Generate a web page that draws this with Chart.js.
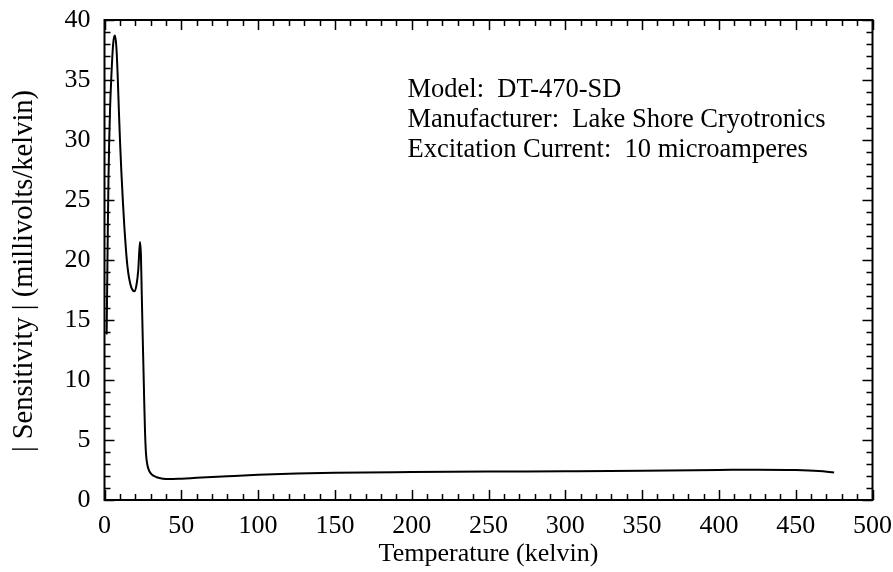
<!DOCTYPE html>
<html>
<head>
<meta charset="utf-8">
<script src="https://cdn.jsdelivr.net/npm/chart.js@4/dist/chart.umd.min.js"></script>
<style>
html,body{margin:0;padding:0;background:#fff;}
canvas{display:block;}
</style>
</head>
<body>
<canvas id="c" width="893" height="572"></canvas>
<script>
// Temperature (kelvin)
const temperature = [1.4, 1.8, 2.2, 2.6, 3.0, 3.6, 4.5, 5.3, 6.0, 6.9, 7.8, 8.6, 9.4, 10.2, 11.0, 12.0, 13.0, 14.0, 15.0, 16.0, 17.5, 19.4, 20.8, 22.0, 23.1, 23.7, 24.2, 24.8, 25.4, 25.9, 26.4, 27.0, 27.8, 29.0, 31.0, 34.0, 38.0, 42.0, 50, 60, 80, 100, 125, 150, 200, 250, 300, 350, 400, 425, 450, 465, 475];
// |Sensitivity| (millivolts/kelvin)
const sensitivity = [13.8, 18.5, 23.0, 26.8, 29.6, 32.5, 35.4, 37.4, 38.4, 38.7, 37.6, 35.3, 32.3, 29.6, 27.3, 24.8, 22.6, 20.8, 19.4, 18.5, 17.7, 17.4, 17.9, 19.2, 21.5, 20.5, 17.5, 14.0, 10.8, 8.0, 5.6, 3.9, 3.0, 2.45, 2.1, 1.9, 1.78, 1.74, 1.78, 1.85, 1.98, 2.1, 2.2, 2.27, 2.33, 2.37, 2.4, 2.44, 2.5, 2.53, 2.5, 2.42, 2.3];
const xTicks = [0, 50, 100, 150, 200, 250, 300, 350, 400, 450, 500];
const yTicks = [0, 5, 10, 15, 20, 25, 30, 35, 40];
const infoLines = ["Model:  DT-470-SD", "Manufacturer:  Lake Shore Cryotronics", "Excitation Current:  10 microamperes"];
const xTitle = "Temperature (kelvin)";
const yTitle = "| Sensitivity | (millivolts/kelvin)";

const FONT = "'Liberation Serif', 'Times New Roman', serif";

const points = temperature.map((t, i) => ({x: t, y: sensitivity[i]}));

const frameAndTicks = {
  id: 'frameAndTicks',
  afterDraw(chart) {
    const ctx = chart.ctx;
    const a = chart.chartArea;
    const xs = chart.scales.x, ys = chart.scales.y;
    ctx.save();
    ctx.strokeStyle = '#000';
    ctx.lineWidth = 2;
    ctx.strokeRect(a.left, a.top, a.right - a.left, a.bottom - a.top);
    ctx.lineWidth = 1.5;
    ctx.beginPath();
    for (let v = xs.min; v <= xs.max + 1e-9; v += 10) {
      const px = Math.round(xs.getPixelForValue(v)) + 0.5;
      const len = (Math.round(v) % 50 === 0) ? 10 : 6;
      ctx.moveTo(px, a.bottom); ctx.lineTo(px, a.bottom - len);
      ctx.moveTo(px, a.top); ctx.lineTo(px, a.top + len);
    }
    for (let v = ys.min; v <= ys.max + 1e-9; v += 1) {
      const py = Math.round(ys.getPixelForValue(v)) + 0.5;
      const len = (Math.round(v) % 5 === 0) ? 10 : 6;
      ctx.moveTo(a.left, py); ctx.lineTo(a.left + len, py);
      ctx.moveTo(a.right, py); ctx.lineTo(a.right - len, py);
    }
    ctx.stroke();
    // annotation
    ctx.fillStyle = '#000';
    ctx.font = "26.5px " + FONT;
    ctx.textAlign = 'left';
    ctx.textBaseline = 'alphabetic';
    infoLines.forEach((s, i) => ctx.fillText(s, 407.5, 97 + i * 30));
    // y title
    ctx.font = "28.5px " + FONT;
    ctx.translate(25, 271);
    ctx.rotate(-Math.PI / 2);
    ctx.textAlign = 'center';
    ctx.textBaseline = 'middle';
    ctx.fillText(yTitle, 0, 0);
    ctx.restore();
  }
};

new Chart(document.getElementById('c'), {
  type: 'line',
  data: {
    datasets: [{
      data: points,
      borderColor: '#000',
      borderWidth: 2,
      pointRadius: 0,
      fill: false,
      cubicInterpolationMode: 'monotone'
    }]
  },
  options: {
    responsive: false,
    animation: false,
    events: [],
    layout: {padding: {top: 20, right: 20.5, left: 0, bottom: 2}},
    plugins: {legend: {display: false}, tooltip: {enabled: false}},
    scales: {
      x: {
        type: 'linear', min: 0, max: 500,
        afterBuildTicks(s) { s.ticks = xTicks.map(v => ({value: v})); },
        afterFit(s) { s.height = 70; s.paddingLeft = 0; s.paddingRight = 0; },
        grid: {display: false, drawTicks: false},
        border: {display: false},
        ticks: {color: '#000', font: {family: FONT, size: 26}, padding: 11, maxRotation: 0, autoSkip: false},
        title: {display: true, text: xTitle, color: '#000', font: {family: FONT, size: 26}, padding: 0}
      },
      y: {
        type: 'linear', min: 0, max: 40,
        afterBuildTicks(s) { s.ticks = yTicks.map(v => ({value: v})); },
        afterFit(s) { s.width = 104.5; s.paddingTop = 0; s.paddingBottom = 0; },
        grid: {display: false, drawTicks: false},
        border: {display: false},
        ticks: {color: '#000', font: {family: FONT, size: 26}, padding: 14, autoSkip: false}
      }
    }
  },
  plugins: [frameAndTicks]
});
</script>
</body>
</html>
